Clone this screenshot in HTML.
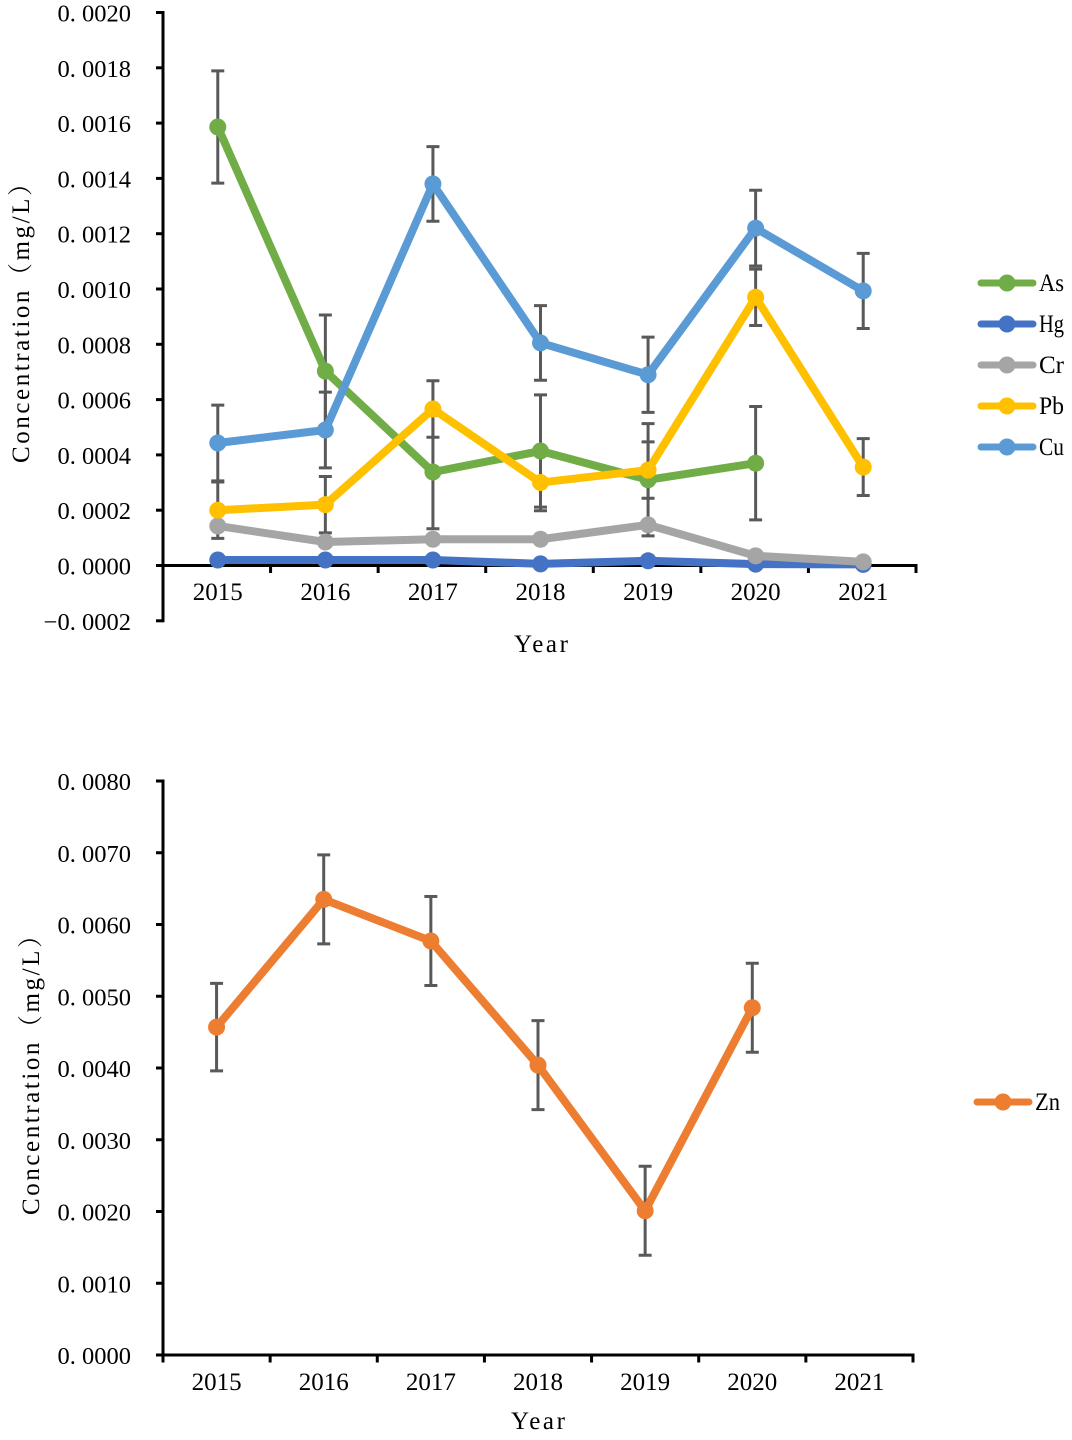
<!DOCTYPE html>
<html lang="en">
<head>
<meta charset="utf-8">
<title>Concentration by year</title>
<style>
html,body{margin:0;padding:0;background:#fff;}
svg{display:block;}
text{font-family:"Liberation Serif","Noto Serif CJK SC",serif;fill:#000;font-size:25px;}
</style>
</head>
<body>
<svg id="figure" xmlns="http://www.w3.org/2000/svg" width="1072" height="1440" viewBox="0 0 1072 1440"></svg>
<script>
const years = ["2015", "2016", "2017", "2018", "2019", "2020", "2021"];
const topTicks = [0.0020, 0.0018, 0.0016, 0.0014, 0.0012, 0.0010, 0.0008, 0.0006, 0.0004, 0.0002, 0.0000, -0.0002];
const bottomTicks = [0.0080, 0.0070, 0.0060, 0.0050, 0.0040, 0.0030, 0.0020, 0.0010, 0.0000];

const asValues = [0.001586, 0.000703, 0.000338, 0.000414, 0.000310, 0.000370, null];
const asErrors = [0.000203, 0.000203, 0.000205, 0.000203, 0.000203, 0.000205, null];
const hgValues = [0.000020, 0.000020, 0.000020, 0.000006, 0.000017, 0.000005, 0.000004];
const crValues = [0.000143, 0.000085, 0.000095, 0.000095, 0.000147, 0.000035, 0.000013];
const pbValues = [0.000200, 0.000220, 0.000566, 0.000300, 0.000345, 0.000970, 0.000356];
const pbErrors = [0.000102, 0.000102, 0.000102, 0.000102, 0.000102, 0.000102, 0.000103];
const cuValues = [0.000443, 0.000490, 0.001380, 0.000805, 0.000690, 0.001220, 0.000993];
const cuErrors = [0.000137, 0.000137, 0.000135, 0.000135, 0.000136, 0.000137, 0.000136];
const znValues = [0.00457, 0.00635, 0.00577, 0.00404, 0.00201, 0.00484, null];
const znErrors = [0.00061, 0.00062, 0.00062, 0.00062, 0.00062, 0.00062, null];

const svg = document.getElementById('figure');
const NS = 'http://www.w3.org/2000/svg';

function make(tag, attrs, parent, content) {
  const el = document.createElementNS(NS, tag);
  for (const k in attrs) el.setAttribute(k, attrs[k]);
  if (content !== undefined) el.textContent = content;
  parent.appendChild(el);
  return el;
}
function tickText(v) {
  return (v < 0 ? '\u2212' : '') + Math.abs(v).toFixed(4).replace('.', '. ');
}

function drawChart(cfg) {
  const g = make('g', {}, svg);
  
  

  const yScale = v => cfg.zeroY - (v / cfg.unit) * cfg.unitPx;
  const xScale = i => cfg.left + cfg.shift + (i + 0.5) * (cfg.right - cfg.left) / years.length;
  const boundary = i => cfg.left + i * (cfg.right - cfg.left) / years.length;
  const yMax = Math.max.apply(null, cfg.ticks);
  const yMin = Math.min.apply(null, cfg.ticks);

  const yAxis = make('line', {x1: cfg.left, x2: cfg.left, y1: yScale(yMax) - 1.5, y2: yScale(yMin) + 1.5, stroke: '#000', 'stroke-width': 3}, g);
  
  

  cfg.ticks.forEach(t => {
    const tick = make('line', {x1: cfg.left - 7, x2: cfg.left, y1: yScale(t), y2: yScale(t), stroke: '#000', 'stroke-width': 3}, g);
    
    
    const label = make('text', {x: 131, y: yScale(t) + 9, 'text-anchor': 'end', style: 'font-size:24.5px'}, g, tickText(t));
    
    
  });

  const xAxis = make('line', {x1: cfg.left, x2: cfg.right + 1.5, y1: cfg.zeroY, y2: cfg.zeroY, stroke: '#000', 'stroke-width': 3}, g);
  
  

  for (let i = cfg.firstTick; i <= years.length; i++) {
    const tick = make('line', {x1: boundary(i), x2: boundary(i), y1: cfg.zeroY, y2: cfg.zeroY + 7.5, stroke: '#000', 'stroke-width': 3}, g);
    
    
  }

  years.forEach((yr, i) => {
    const label = make('text', {x: xScale(i), y: cfg.xLabelY, 'text-anchor': 'middle'}, g, yr);
    
    
  });

  const xTitle = make('text', {x: cfg.xTitleX - 27, y: cfg.xTitleY, 'textLength': 54, 'lengthAdjust': 'spacing'}, g, 'Year');
  
  

  const yTitle = make('text', {
    x: 0, y: 0, 'textLength': 292, 'lengthAdjust': 'spacing',
    transform: 'translate(' + cfg.yTitleX + ',' + cfg.yTitleY + ') rotate(-90)'
  }, g, 'Concentration\uFF08mg/L\uFF09');
  
  

  cfg.series.forEach(s => {
    if (!s.errors) return;
    s.values.forEach((v, i) => {
      if (v === null || s.errors[i] === null) return;
      const x = xScale(i);
      const hi = yScale(v + s.errors[i]);
      const lo = yScale(v - s.errors[i]);
      const bar = make('path', {
        d: 'M' + x + ' ' + hi + 'V' + lo + 'M' + (x - 6.5) + ' ' + hi + 'H' + (x + 6.5) + 'M' + (x - 6.5) + ' ' + lo + 'H' + (x + 6.5),
        stroke: '#595959', 'stroke-width': 3, fill: 'none'
      }, g);
      
      
    });
  });

  cfg.series.forEach(s => {
    const pts = [];
    s.values.forEach((v, i) => { if (v !== null) pts.push(xScale(i) + ',' + yScale(v)); });
    const line = make('polyline', {points: pts.join(' '), fill: 'none', stroke: s.color, 'stroke-width': 8, 'stroke-linejoin': 'round', 'stroke-linecap': 'round'}, g);
    
    
    s.values.forEach((v, i) => {
      if (v === null) return;
      const dot = make('circle', {cx: xScale(i), cy: yScale(v), r: 8.5, fill: s.color}, g);
      
      
    });
  });

  cfg.series.forEach((s, n) => {
    const y = cfg.legendY + n * cfg.legendStep;
    const entry = make('g', {}, g);
    
    
    const swatch = make('line', {x1: cfg.legendX + 3, x2: cfg.legendX + 55, y1: y, y2: y, stroke: s.color, 'stroke-width': 7, 'stroke-linecap': 'round'}, entry);
    
    
    const dot = make('circle', {cx: cfg.legendX + 29, cy: y, r: 8.5, fill: s.color}, entry);
    
    
    const label = make('text', {x: cfg.legendX + 61, y: y + 8, 'textLength': 25, 'lengthAdjust': 'spacingAndGlyphs'}, entry, s.label);
    
    
  });
}

drawChart({
  name: 'heavy-metals-chart',
  ticks: topTicks, unit: 0.0002, unitPx: 55.3, zeroY: 565.5,
  left: 163, right: 916, firstTick: 1, shift: 1,
  xLabelY: 600, xTitleX: 541, xTitleY: 652,
  yTitleX: 29, yTitleY: 463,
  legendX: 978, legendY: 283, legendStep: 41,
  series: [
    {key: 'as', label: 'As', color: '#70AD47', values: asValues, errors: asErrors},
    {key: 'hg', label: 'Hg', color: '#4472C4', values: hgValues},
    {key: 'cr', label: 'Cr', color: '#A5A5A5', values: crValues},
    {key: 'pb', label: 'Pb', color: '#FFC000', values: pbValues, errors: pbErrors},
    {key: 'cu', label: 'Cu', color: '#5B9BD5', values: cuValues, errors: cuErrors}
  ]
});

drawChart({
  name: 'zinc-chart',
  ticks: bottomTicks, unit: 0.001, unitPx: 71.75, zeroY: 1355,
  left: 163, right: 913, firstTick: 0, shift: 0,
  xLabelY: 1390, xTitleX: 538, xTitleY: 1429,
  yTitleX: 39, yTitleY: 1215,
  legendX: 974, legendY: 1102, legendStep: 41,
  series: [
    {key: 'zn', label: 'Zn', color: '#ED7D31', values: znValues, errors: znErrors}
  ]
});
</script>
</body>
</html>
